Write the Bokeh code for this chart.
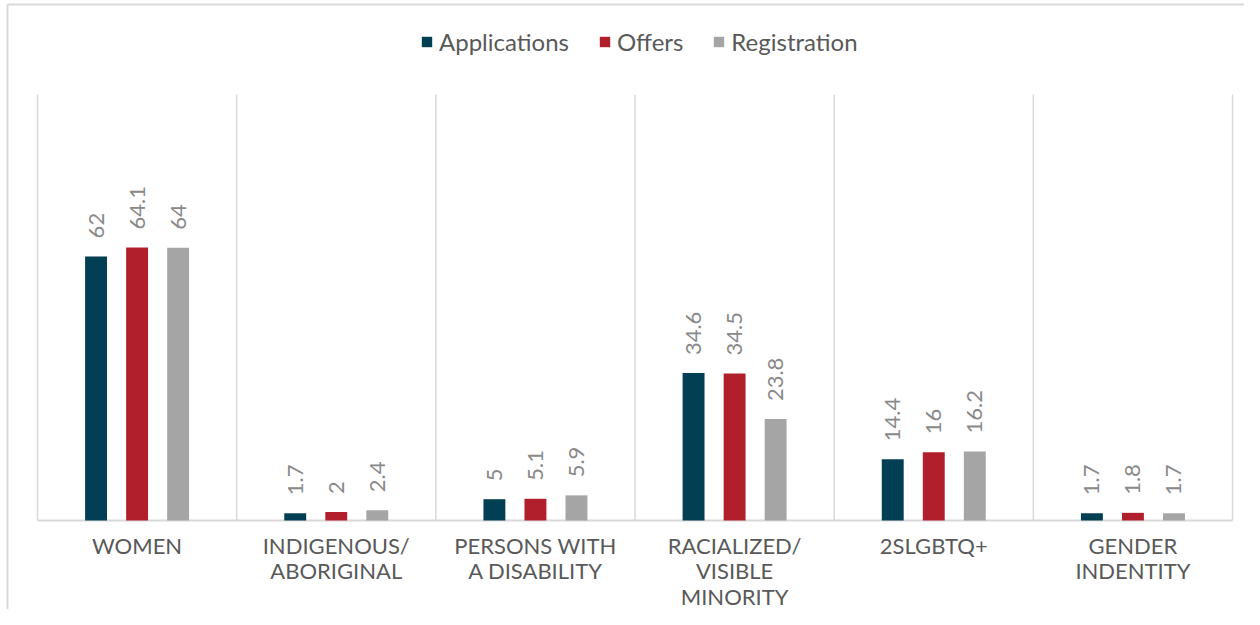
import math
from bokeh.plotting import figure
from bokeh.models import ColumnDataSource, Legend, LegendItem, Range1d
from bokeh.transform import dodge
from bokeh.core.properties import value
from bokeh.embed import file_html
from bokeh.resources import INLINE

# ---- data ----
categories = ["WOMEN", "INDIGENOUS/\nABORIGINAL", "PERSONS WITH\nA DISABILITY",
              "RACIALIZED/\nVISIBLE\nMINORITY", "2SLGBTQ+", "GENDER\nINDENTITY"]
applications = [62, 1.7, 5, 34.6, 14.4, 1.7]
offers = [64.1, 2, 5.1, 34.5, 16, 1.8]
registration = [64, 2.4, 5.9, 23.8, 16.2, 1.7]
series_names = ["Applications", "Offers", "Registration"]
colors = ["#023f52", "#b21f2c", "#a5a5a5"]

# ---- layout constants (pixels) ----
W, H = 1244, 609
PX_X, X0 = 199.17, 37     # px per category, px from left where x=0
PX_Y, Y0 = 4.26, 89       # px per unit, px from bottom where y=0

x_range = Range1d(-X0 / PX_X, (W - X0) / PX_X)
y_range = Range1d(-Y0 / PX_Y, (H - Y0) / PX_Y)

p = figure(width=W, height=H, x_range=x_range, y_range=y_range,
           output_backend="svg", toolbar_location=None,
           x_axis_location=None, y_axis_location=None, min_border=0,
           outline_line_color=None, background_fill_color="white",
           border_fill_color="white")
p.grid.visible = False

n = len(categories)
fmt = lambda v: f"{v:g}"
src = ColumnDataSource(dict(
    x=[i + 0.5 for i in range(n)], cat=categories,
    app=applications, off=offers, reg=registration,
    app_l=[fmt(v) for v in applications],
    off_l=[fmt(v) for v in offers],
    reg_l=[fmt(v) for v in registration],
))

GRID = "#d9d9d9"
# outer chart border (top & left)
bx = (7 - X0) / PX_X
by = (H - Y0 - 4) / PX_Y
p.segment(x0=[bx, bx], y0=[y_range.start, by], x1=[bx, x_range.end], y1=[by, by],
          line_color=GRID, line_width=2)
# vertical separators
p.segment(x0=list(range(n + 1)), y0=[0] * (n + 1), x1=list(range(n + 1)),
          y1=[100] * (n + 1), line_color=GRID, line_width=1.5)
# baseline
p.segment(x0=[0], y0=[0], x1=[n], y1=[0], line_color=GRID, line_width=2)

offsets = [-0.206, 0.0, 0.206]
cols = ["app", "off", "reg"]
renderers = []
for off, col, c in zip(offsets, cols, colors):
    r = p.vbar(x=dodge("x", off, range=p.x_range), top=col, width=0.11,
               source=src, fill_color=c, line_color=None)
    renderers.append(r)
    p.text(x=dodge("x", off, range=p.x_range), y=col, text=col + "_l",
           source=src, angle=math.pi / 2, text_align="left",
           text_baseline="middle", y_offset=-18,
           text_font=value("Lato"), text_font_size="22px",
           text_color="#898989")

# category labels
p.text(x="x", y=0, text="cat", source=src, text_align="center",
       text_baseline="top", y_offset=11, text_font=value("Lato"),
       text_font_size="22px", text_color="#595959", text_line_height=0.95)

legend = Legend(items=[LegendItem(label=nm, renderers=[r])
                       for nm, r in zip(series_names, renderers)],
                location=(420, 553), orientation="horizontal",
                glyph_width=13, glyph_height=13, label_standoff=6, spacing=29,
                padding=0, margin=0, border_line_color=None,
                background_fill_alpha=0, label_text_font="Lato",
                label_text_font_size="24px", label_text_color="#595959")
p.add_layout(legend)

open("out.html", "w").write(file_html(p, INLINE))
